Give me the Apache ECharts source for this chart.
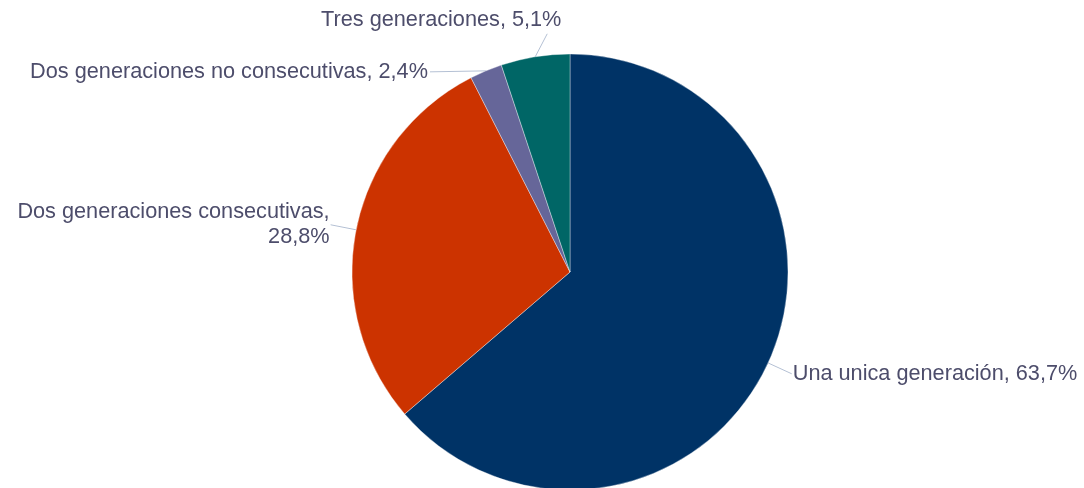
<!DOCTYPE html>
<html>
<head>
<meta charset="utf-8">
<script src="https://cdn.jsdelivr.net/npm/echarts@6/dist/echarts.min.js"></script>
<style>html,body{margin:0;padding:0;background:#fff}#c{width:1084px;height:488px}</style>
</head>
<body>
<div id="c"></div>
<script>
var categories = ['Una unica generación', 'Dos generaciones consecutivas', 'Dos generaciones no consecutivas', 'Tres generaciones'];
var values = [63.7, 28.8, 2.4, 5.1];
var labelTexts = ['Una unica generación, 63,7%', 'Dos generaciones consecutivas,\n28,8%', 'Dos generaciones no consecutivas, 2,4%', 'Tres generaciones, 5,1%'];
var colors = ['#003366', '#CC3300', '#666699', '#006666'];

var chart = echarts.init(document.getElementById('c'), null, {renderer: 'canvas'});
var data = categories.map(function (c, i) {
  return {name: c, value: values[i], itemStyle: {color: colors[i]}};
});
chart.setOption({
  animation: false,
  series: [{
    type: 'pie',
    center: [570, 272],
    radius: [0, 218],
    startAngle: 90,
    clockwise: true,
    avoidLabelOverlap: false,
    data: data,
    itemStyle: {borderColor: 'rgba(255,255,255,0.6)', borderWidth: 0.6},
    label: {
      show: true,
      position: 'outside',
      formatter: function (p) { return labelTexts[p.dataIndex]; },
      fontFamily: '"Liberation Sans", Arial, sans-serif',
      fontSize: 21.7,
      lineHeight: 25,
      color: '#4d4d6b',
      distanceToLabelLine: 1
    },
    labelLine: {
      show: true,
      length: 26,
      length2: 0,
      smooth: false,
      lineStyle: {color: '#b4c0d4', width: 1}
    },
    labelLayout: function (p) {
      var s = p.labelLinePoints ? p.labelLinePoints[0] : null;
      if (!s) return {};
      if (p.dataIndex === 2) {
        return {
          x: s[0] - 58, y: s[1] + 1, align: 'right', verticalAlign: 'middle',
          labelLinePoints: [s, [s[0] - 56, s[1] + 1], [s[0] - 56, s[1] + 1]]
        };
      }
      if (p.dataIndex === 3) {
        return {
          x: s[0] - 94, y: s[1] - 37, align: 'center', verticalAlign: 'middle',
          labelLinePoints: [s, [s[0] + 12, s[1] - 23], [s[0] + 12, s[1] - 23]]
        };
      }
      return {};
    }
  }]
});
</script>
</body>
</html>
